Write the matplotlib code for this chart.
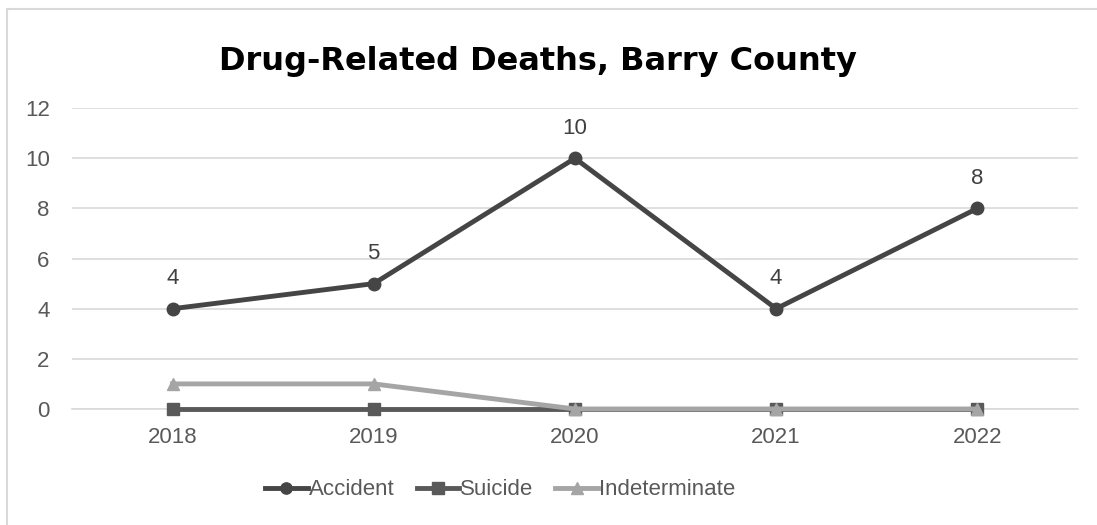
import matplotlib.pyplot as plt
from matplotlib.patches import Rectangle

years = ["2018", "2019", "2020", "2021", "2022"]
accident = [4, 5, 10, 4, 8]
suicide = [0, 0, 0, 0, 0]
indeterminate = [1, 1, 0, 0, 0]

plt.rcParams['font.family'] = ['Liberation Sans', 'DejaVu Sans']

fig = plt.figure(figsize=(10.97, 5.25), dpi=100)
ax = fig.add_axes([0.0656, 0.221, 0.917, 0.573])

# chart outer border (clipped by the image edge on right/bottom)
fig.patches.append(Rectangle((7 / 1097, -0.1), 1.5, 1 - 9 / 525 + 0.1,
                             transform=fig.transFigure, fill=False,
                             edgecolor="#d9d9d9", linewidth=1.5))

x = range(len(years))
ax.plot(x, suicide, color="#595959", lw=3.5, marker="s", ms=9,
        label="Suicide", zorder=3, clip_on=False)
ax.plot(x, indeterminate, color="#a5a5a5", lw=3.5, marker="^", ms=9,
        label="Indeterminate", zorder=4, clip_on=False)
ax.plot(x, accident, color="#454545", lw=3.5, marker="o", ms=9,
        label="Accident", zorder=5, clip_on=False)

for xi, v in zip(x, accident):
    ax.annotate(str(v), (xi, v), xytext=(0, 14), textcoords="offset points",
                ha="center", va="bottom", fontsize=16, color="#404040")

ax.set_xlim(-0.5, 4.5)
ax.set_ylim(0, 12)
ax.set_yticks(range(0, 13, 2))
ax.set_xticks(list(x))
ax.set_xticklabels(years)
ax.tick_params(axis="both", length=0, labelsize=16, labelcolor="#595959")
ax.tick_params(axis="y", pad=16)
ax.tick_params(axis="x", pad=13)
ax.grid(axis="y", color="#d9d9d9", lw=1.2)
ax.set_axisbelow(True)
for s in ["top", "right", "left"]:
    ax.spines[s].set_visible(False)
ax.spines["bottom"].set_color("#d9d9d9")
ax.spines["bottom"].set_linewidth(1.2)
ax.spines["bottom"].set_zorder(1)

fig.text(0.49, 0.882, "Drug-Related Deaths, Barry County", ha="center",
         va="center", fontsize=23, fontweight="bold", color="black",
         family=["DejaVu Sans"])

h, l = ax.get_legend_handles_labels()
order = [2, 0, 1]
fig.legend([h[i] for i in order], [l[i] for i in order], loc="center",
           bbox_to_anchor=(0.456, 0.067), ncol=3, frameon=False,
           fontsize=16, labelcolor="#595959", handlelength=1.9,
           handletextpad=0.05, columnspacing=1.0, markerscale=0.9)

fig.savefig("out.png", dpi=100)
